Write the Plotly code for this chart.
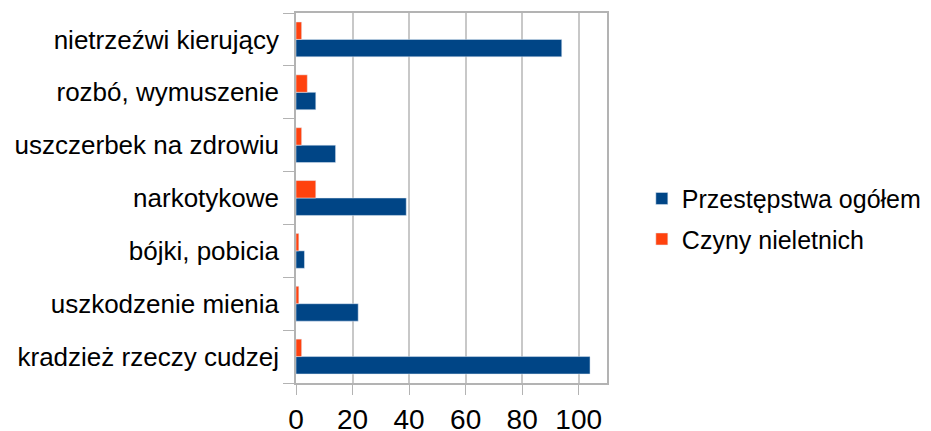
import plotly.graph_objects as go

categories = ["kradzież rzeczy cudzej", "uszkodzenie mienia", "bójki, pobicia",
              "narkotykowe", "uszczerbek na zdrowiu", "rozbó, wymuszenie",
              "nietrzeźwi kierujący"]
ogolem = [104, 22, 3, 39, 14, 7, 94]
nieletni = [2, 1, 1, 7, 2, 4, 2]
x_ticks = [0, 20, 40, 60, 80, 100]

fig = go.Figure()
fig.add_trace(go.Bar(y=categories, x=ogolem, orientation='h', legendgroup="a",
                     name="Przestępstwa ogółem", marker_color="#004586"))
fig.add_trace(go.Bar(y=categories, x=nieletni, orientation='h', legendgroup="b",
                     name="Czyny nieletnich", marker_color="#ff420e"))

# page body adds an 8px margin; figure is offset accordingly
fig.update_layout(
    width=931, height=423,
    barmode="group", bargap=0.34, bargroupgap=0,
    margin=dict(l=288, r=332, t=5, b=48),
    paper_bgcolor="white", plot_bgcolor="white",
    font=dict(family="Liberation Sans, Arial, sans-serif", color="#000000", size=26),
    legend=dict(x=1.112, y=0.444, xanchor="left", yanchor="middle",
                font=dict(size=25), itemwidth=30, tracegroupgap=5),
    xaxis=dict(range=[0, 110], tickvals=x_ticks, showgrid=True, gridcolor="#c8c8c8",
               gridwidth=1.5, showline=True, linecolor="#b3b3b3", linewidth=1.5,
               mirror=True, ticks="outside", ticklen=10, tickcolor="#b3b3b3",
               tickfont=dict(size=28), zeroline=False, ticklabelstandoff=1,
               automargin=False),
    yaxis=dict(showline=True, linecolor="#b3b3b3", linewidth=1.5, mirror=True,
               ticks="outside", ticklen=11, tickcolor="#b3b3b3", tickson="boundaries",
               tickfont=dict(size=26), showgrid=False, ticklabelstandoff=10,
               automargin=False),
)

fig.write_html("out.html")
